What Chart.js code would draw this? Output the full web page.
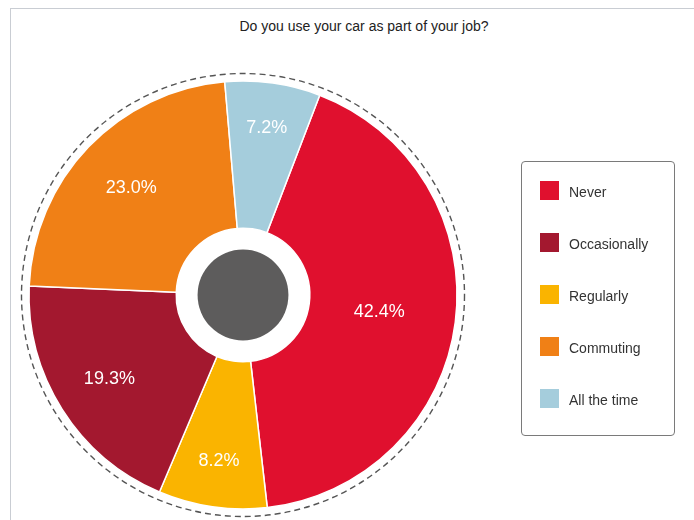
<!DOCTYPE html>
<html>
<head>
<meta charset="utf-8">
<script src="https://cdn.jsdelivr.net/npm/chart.js@4/dist/chart.umd.min.js"></script>
<style>
  html, body { margin: 0; padding: 0; background: #fff; }
  body { width: 694px; height: 520px; position: relative; overflow: hidden;
         font-family: 'Liberation Sans', Arial, sans-serif; }
  .frame { position: absolute; left: 10px; top: 8px; width: 700px; height: 530px;
           border-left: 1.5px solid #c9cdd3; border-top: 1.5px solid #c9cdd3; }
  .title { position: absolute; left: 164px; width: 400px; top: 18px; text-align: center;
           font-size: 14px; color: #222; }
  #chart { position: absolute; left: 0; top: 0; }
  .legend { position: absolute; left: 521px; top: 161px; width: 154px; height: 275px;
            border: 1px solid #7a7a7a; border-radius: 4px; box-sizing: border-box; }
  .legend .item { position: absolute; left: 18px; height: 19px; display: flex; align-items: center; }
  .legend .sw { width: 19px; height: 19px; margin-right: 10px; }
  .legend .lbl { font-size: 14px; color: #333; position: relative; top: 1px; }
</style>
</head>
<body>
<div class="frame"></div>
<div class="title">Do you use your car as part of your job?</div>
<canvas id="chart" width="694" height="520"></canvas>
<div class="legend" id="legend"></div>

<script>
// legend order
const categories = ['Never', 'Occasionally', 'Regularly', 'Commuting', 'All the time'];
const shares     = [42.4, 19.3, 8.2, 23.0, 7.2];
const colours    = ['#e0102e', '#a3182f', '#fab400', '#f08016', '#a5cddc'];
// clockwise order the slices are drawn in
const sliceOrder = [0, 2, 1, 3, 4];

const sliceLabels  = sliceOrder.map(i => categories[i]);
const sliceValues  = sliceOrder.map(i => shares[i]);
const sliceColours = sliceOrder.map(i => colours[i]);

// ── Legend ──
document.getElementById('legend').innerHTML = categories.map((c, i) =>
  `<div class="item" style="top:${19 + i * 52}px"><div class="sw" style="background:${colours[i]}"></div><span class="lbl">${c}</span></div>`
).join('');

// dashed ring outside the pie + grey disc in the hole
const decor = {
  id: 'decor',
  afterDatasetsDraw(chart) {
    const arc = chart.getDatasetMeta(0).data[0];
    const {x, y, outerRadius, innerRadius} = arc;
    const ctx = chart.ctx;
    ctx.save();
    ctx.beginPath();
    ctx.arc(x, y, outerRadius + 7.5, 0, Math.PI * 2);
    ctx.setLineDash([6, 4]);
    ctx.lineWidth = 1.4;
    ctx.strokeStyle = '#555';
    ctx.stroke();
    ctx.setLineDash([]);
    ctx.beginPath();
    ctx.arc(x, y, innerRadius * 0.68, 0, Math.PI * 2);
    ctx.fillStyle = '#5d5c5c';
    ctx.fill();
    ctx.restore();
  }
};

// percentage text inside each slice
const pctLabels = {
  id: 'pctLabels',
  afterDatasetsDraw(chart) {
    const ctx = chart.ctx;
    const meta = chart.getDatasetMeta(0);
    ctx.save();
    ctx.font = '18px "Liberation Sans", Arial, sans-serif';
    ctx.fillStyle = '#fff';
    ctx.textAlign = 'center';
    ctx.textBaseline = 'middle';
    meta.data.forEach((a, i) => {
      const mid = (a.startAngle + a.endAngle) / 2;
      const spanDeg = (a.endAngle - a.startAngle) * 180 / Math.PI;
      const r = a.outerRadius * (0.82 - 0.00117 * spanDeg);
      ctx.fillText(sliceValues[i].toFixed(1) + '%', a.x + r * Math.cos(mid), a.y + r * Math.sin(mid));
    });
    ctx.restore();
  }
};

new Chart(document.getElementById('chart'), {
  type: 'doughnut',
  data: {
    labels: sliceLabels,
    datasets: [{
      data: sliceValues,
      backgroundColor: sliceColours,
      borderColor: '#fff',
      borderWidth: 1.5,
    }]
  },
  options: {
    responsive: false,
    animation: false,
    rotation: 21,
    radius: 214,
    cutout: 70,
    layout: { padding: { left: 0, right: 208, top: 70, bottom: 0 } },
    plugins: {
      legend: { display: false },
      tooltip: { enabled: false },
      title: { display: false }
    },
    events: []
  },
  plugins: [decor, pctLabels]
});
</script>
</body>
</html>
